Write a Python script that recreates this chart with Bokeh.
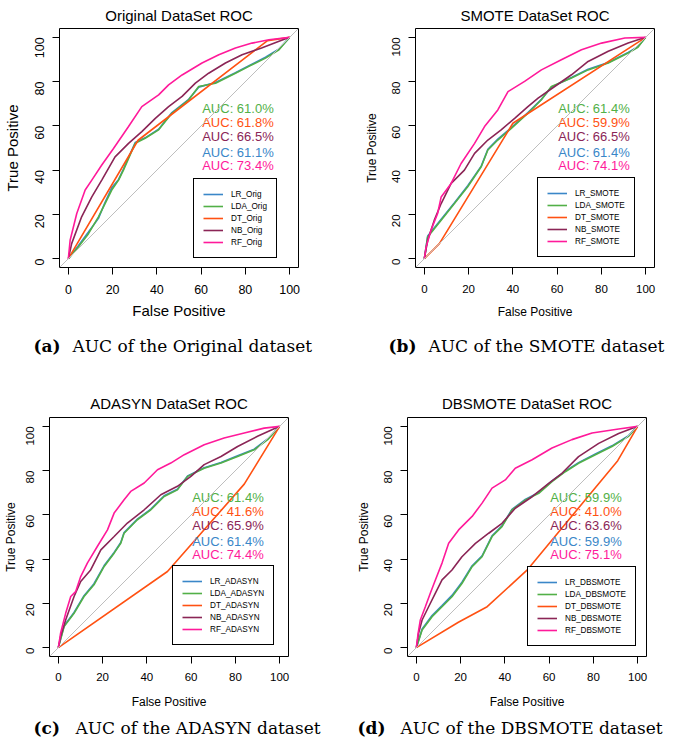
import math
from bokeh.plotting import figure
from bokeh.models import (FixedTicker, Legend, LegendItem, Slope, Title,
                          ColumnDataSource, Range1d)
from bokeh.layouts import column, row
from bokeh.embed import file_html
from bokeh.resources import INLINE
from bokeh.core.properties import value

# ---------------- data ----------------
MODELS = ["LR", "LDA", "DT", "NB", "RF"]
COLORS = ["#3A87C8", "#52B047", "#FF5112", "#8B2556", "#FF1A9A"]
TICKS = [0, 20, 40, 60, 80, 100]

# Original dataset
ORIG_LR_X = [0, 4.5, 9.1, 13.6, 16.6, 19.6, 22.7, 24.9, 30.2, 34.7, 40.8, 46.8, 54.4, 58.9, 66.5, 75.5, 81.6, 89.1, 95.2, 100]
ORIG_LR_Y = [0, 5.8, 12.0, 18.2, 25.5, 32.0, 35.8, 40.5, 52.5, 54.6, 58.5, 66.0, 72.0, 77.5, 79.6, 84.0, 87.2, 91.0, 94.8, 100]
ORIG_LDA_X = [0, 4.5, 9.1, 13.6, 16.6, 19.6, 22.7, 24.9, 30.2, 34.7, 40.8, 46.8, 54.4, 58.9, 66.5, 75.5, 81.6, 89.1, 95.2, 100]
ORIG_LDA_Y = [0, 5.3, 11.3, 18.9, 24.9, 31.0, 35.5, 40.0, 52.1, 54.4, 58.2, 65.7, 71.8, 77.8, 79.3, 83.8, 86.9, 90.6, 94.4, 100]
ORIG_DT_X = [0, 31.5, 90.0, 100]
ORIG_DT_Y = [0, 53.5, 98.5, 100]
ORIG_NB_X = [0, 1.5, 6.0, 10.6, 15.1, 21.1, 27.2, 33.2, 39.3, 45.3, 51.4, 57.4, 63.4, 71.0, 78.5, 87.3, 95.2, 100]
ORIG_NB_Y = [0, 6.8, 18.9, 27.9, 35.5, 46.0, 52.1, 57.4, 63.4, 68.7, 73.3, 79.3, 83.8, 88.4, 92.1, 95.2, 98.2, 100]
ORIG_RF_X = [0, 0.8, 3.8, 7.6, 10.6, 15.1, 20.4, 27.2, 33.2, 40.8, 45.3, 51.4, 60.4, 68.0, 75.5, 83.0, 90.6, 100]
ORIG_RF_Y = [0, 8.3, 20.4, 31.0, 35.5, 42.3, 49.8, 59.7, 68.7, 74.0, 78.5, 83.0, 88.4, 92.1, 95.2, 97.4, 98.9, 100]
ORIG_AUC = [61.1, 61.0, 61.8, 66.5, 73.4]

# SMOTE dataset
SMOTE_LR_X = [0, 1.5, 7.6, 13.6, 19.6, 25.7, 28.7, 33.2, 39.3, 46.8, 52.9, 57.4, 66.5, 74.0, 83.1, 92.1, 96.5, 100]
SMOTE_LR_Y = [0, 10.2, 17.8, 25.3, 33.0, 41.8, 49.4, 54.0, 59.2, 66.0, 72.0, 77.5, 81.9, 85.6, 88.6, 93.2, 95.8, 100]
SMOTE_LDA_X = [0, 1.5, 7.6, 13.6, 19.6, 25.7, 28.7, 33.2, 39.3, 46.8, 52.9, 57.4, 66.5, 74.0, 83.1, 92.1, 96.5, 100]
SMOTE_LDA_Y = [0, 9.8, 17.4, 24.9, 32.5, 41.5, 49.1, 53.6, 58.9, 65.7, 71.8, 77.8, 81.6, 85.3, 88.4, 92.9, 95.5, 100]
SMOTE_DT_X = [0, 6.8, 40.0, 100]
SMOTE_DT_Y = [0, 6.8, 61.2, 100]
SMOTE_NB_X = [0, 1.5, 4.5, 7.6, 12.1, 18.1, 22.7, 28.7, 34.7, 40.8, 46.8, 51.4, 58.9, 66.5, 74.0, 83.1, 92.1, 100]
SMOTE_NB_Y = [0, 8.3, 17.4, 24.9, 34.0, 40.0, 47.6, 53.6, 58.2, 63.4, 68.7, 72.5, 77.8, 83.1, 89.1, 93.7, 97.4, 100]
SMOTE_RF_X = [0, 0.8, 3.0, 6.0, 7.6, 12.1, 16.6, 22.7, 27.2, 33.2, 37.8, 45.3, 52.9, 61.9, 71.0, 80.1, 90.6, 100]
SMOTE_RF_Y = [0, 5.3, 12.8, 20.4, 27.9, 34.0, 43.0, 52.1, 59.7, 67.2, 75.5, 80.1, 85.3, 89.9, 94.4, 97.4, 99.7, 100]
SMOTE_AUC = [61.4, 61.4, 59.9, 66.5, 74.1]

# ADASYN dataset
ADASYN_LR_X = [0, 2.6, 7.1, 11.6, 16.1, 20.7, 25.2, 28.2, 29.7, 35.7, 41.8, 47.8, 53.8, 58.4, 65.9, 73.5, 81.0, 88.5, 94.6, 100]
ADASYN_LR_Y = [0, 9.9, 15.9, 23.5, 28.9, 37.1, 43.0, 47.5, 52.0, 58.1, 62.6, 68.6, 71.6, 77.6, 81.3, 83.7, 86.7, 89.7, 94.3, 100]
ADASYN_LDA_X = [0, 2.6, 7.1, 11.6, 16.1, 20.7, 25.2, 28.2, 29.7, 35.7, 41.8, 47.8, 53.8, 58.4, 65.9, 73.5, 81.0, 88.5, 94.6, 100]
ADASYN_LDA_Y = [0, 9.5, 15.5, 23.1, 28.4, 36.7, 42.7, 47.2, 51.7, 57.8, 62.3, 68.3, 71.3, 77.4, 81.1, 83.4, 86.4, 89.4, 94.0, 100]
ADASYN_DT_X = [0, 49.3, 84.0, 100]
ADASYN_DT_Y = [0, 34.4, 73.9, 100]
ADASYN_NB_X = [0, 1.0, 3.3, 7.1, 10.1, 14.6, 19.2, 25.2, 31.2, 38.8, 46.3, 53.8, 59.9, 65.9, 73.5, 81.0, 90.0, 100]
ADASYN_NB_Y = [0, 5.0, 12.5, 23.1, 29.9, 35.1, 44.2, 50.2, 56.3, 62.3, 69.1, 72.9, 77.4, 82.7, 86.4, 90.9, 95.5, 100]
ADASYN_RF_X = [0, 1.0, 3.3, 5.6, 7.8, 10.1, 13.1, 17.6, 22.2, 25.2, 29.7, 32.7, 38.8, 44.8, 50.8, 56.9, 65.9, 74.9, 84.0, 93.0, 100]
ADASYN_RF_Y = [0, 6.5, 15.5, 23.1, 25.3, 32.1, 38.2, 45.7, 53.2, 60.8, 66.8, 70.6, 74.4, 80.4, 83.4, 87.2, 91.7, 94.7, 97.0, 99.2, 100]
ADASYN_AUC = [61.4, 61.4, 41.6, 65.9, 74.4]

# DBSMOTE dataset
DBSMOTE_LR_X = [0, 2.6, 7.1, 11.6, 16.1, 20.6, 25.2, 29.7, 34.2, 38.7, 43.2, 49.2, 55.3, 61.3, 67.3, 73.3, 80.9, 88.4, 95.9, 100]
DBSMOTE_LR_Y = [0, 8.4, 14.5, 19.0, 23.6, 29.6, 37.0, 41.5, 50.5, 55.0, 62.5, 67.0, 70.1, 75.4, 79.8, 83.6, 87.5, 91.2, 95.8, 100]
DBSMOTE_LDA_X = [0, 2.6, 7.1, 11.6, 16.1, 20.6, 25.2, 29.7, 34.2, 38.7, 43.2, 49.2, 55.3, 61.3, 67.3, 73.3, 80.9, 88.4, 95.9, 100]
DBSMOTE_LDA_Y = [0, 8.0, 14.0, 18.5, 23.0, 29.0, 36.6, 41.1, 50.2, 54.7, 62.2, 66.7, 69.7, 75.0, 79.5, 83.3, 87.2, 90.9, 95.5, 100]
DBSMOTE_DT_X = [0, 19.0, 32.0, 50.0, 91.0, 100]
DBSMOTE_DT_Y = [0, 11.5, 18.5, 35.0, 84.5, 100]
DBSMOTE_NB_X = [0, 1.0, 2.6, 5.6, 8.6, 11.6, 16.1, 20.6, 26.7, 32.7, 38.7, 44.7, 52.3, 59.8, 65.8, 73.3, 82.4, 91.4, 100]
DBSMOTE_NB_Y = [0, 6.5, 12.5, 18.6, 24.6, 30.6, 35.1, 41.1, 47.1, 51.7, 56.2, 63.0, 68.2, 74.2, 78.8, 86.3, 92.3, 96.8, 100]
DBSMOTE_RF_X = [0, 0.8, 1.8, 4.1, 6.3, 8.6, 11.6, 14.6, 19.1, 25.2, 29.7, 34.2, 40.2, 44.7, 52.3, 61.3, 70.3, 79.4, 91.4, 100]
DBSMOTE_RF_Y = [0, 6.5, 12.5, 18.6, 24.6, 30.6, 38.2, 47.2, 53.2, 59.3, 65.3, 72.1, 75.8, 81.1, 84.9, 90.2, 94.0, 97.0, 98.8, 100]
DBSMOTE_AUC = [59.9, 59.9, 41.0, 63.6, 75.1]

TITLES = ["Original DataSet ROC", "SMOTE DataSet ROC", "ADASYN DataSet ROC", "DBSMOTE DataSet ROC"]
SUFFIXES = ["Orig", "SMOTE", "ADASYN", "DBSMOTE"]
CAPTION_TAGS = ["(a)", "(b)", "(c)", "(d)"]
CAPTIONS = ["AUC of the Original dataset", "AUC of the SMOTE dataset",
            "AUC of the ADASYN dataset", "AUC of the DBSMOTE dataset"]

CURVES = [
    [(ORIG_LR_X, ORIG_LR_Y), (ORIG_LDA_X, ORIG_LDA_Y), (ORIG_DT_X, ORIG_DT_Y), (ORIG_NB_X, ORIG_NB_Y), (ORIG_RF_X, ORIG_RF_Y)],
    [(SMOTE_LR_X, SMOTE_LR_Y), (SMOTE_LDA_X, SMOTE_LDA_Y), (SMOTE_DT_X, SMOTE_DT_Y), (SMOTE_NB_X, SMOTE_NB_Y), (SMOTE_RF_X, SMOTE_RF_Y)],
    [(ADASYN_LR_X, ADASYN_LR_Y), (ADASYN_LDA_X, ADASYN_LDA_Y), (ADASYN_DT_X, ADASYN_DT_Y), (ADASYN_NB_X, ADASYN_NB_Y), (ADASYN_RF_X, ADASYN_RF_Y)],
    [(DBSMOTE_LR_X, DBSMOTE_LR_Y), (DBSMOTE_LDA_X, DBSMOTE_LDA_Y), (DBSMOTE_DT_X, DBSMOTE_DT_Y), (DBSMOTE_NB_X, DBSMOTE_NB_Y), (DBSMOTE_RF_X, DBSMOTE_RF_Y)],
]
AUCS = [ORIG_AUC, SMOTE_AUC, ADASYN_AUC, DBSMOTE_AUC]

# ---------------- layout / style (not data) ----------------
AUC_LABEL_Y = [47.8, 68.0, 61.7, 55.1, 41.9]   # per model, LR..RF
AUC_LABEL_X = 92.8
SANS = "Liberation Sans"
SERIF = "DejaVu Serif"
FRAME = 239

GEOM = [
    dict(bl=58, br=43, bt=28, bb=56, tf="12.5px", af="15px", xls=10, yls=13, xs=5, ys=7, leg=(134, 9), ts=9),
    dict(bl=74, br=15, bt=28, bb=56, tf="11.5px", af="12px", xls=10, yls=12, xs=9, ys=7, leg=(122, 10), ts=9),
    dict(bl=45, br=56, bt=32, bb=54, tf="11.5px", af="12px", xls=9, yls=12, xs=11, ys=2, leg=(123, 11), ts=11),
    dict(bl=63, br=25, bt=32, bb=54, tf="11.5px", af="12px", xls=9, yls=12, xs=11, ys=7, leg=(120, 10), ts=11),
]
CAP_ROW_W = 668
CAP_X = [(33, 72), (388, 428), (33, 75), (357, 400)]
CAP_ROWS = [dict(h=62, y=40), dict(h=34, y=18)]


def make_panel(i):
    g = GEOM[i]
    p = figure(frame_width=FRAME, frame_height=FRAME,
               x_range=Range1d(-4, 104), y_range=Range1d(-4, 104),
               output_backend="svg", toolbar_location=None,
               min_border_left=g["bl"], min_border_right=g["br"],
               min_border_top=g["bt"], min_border_bottom=g["bb"],
               background_fill_color="white", border_fill_color="white")
    p.grid.visible = False
    p.outline_line_color = "black"
    p.outline_line_width = 1
    p.outline_line_alpha = 1

    for ax in (p.xaxis[0], p.yaxis[0]):
        ax.ticker = FixedTicker(ticks=TICKS)
        ax.axis_line_color = None
        ax.major_tick_out = 7
        ax.major_tick_in = 0
        ax.major_tick_line_color = "black"
        ax.minor_tick_line_color = None
        ax.major_label_text_font = SANS
        ax.major_label_text_font_size = g["tf"]
        ax.major_label_text_color = "black"
        ax.axis_label_text_font = SANS
        ax.axis_label_text_font_size = g["af"]
        ax.axis_label_text_font_style = "normal"
        ax.axis_label_text_color = "black"
    p.xaxis.axis_label = "False Positive"
    p.yaxis.axis_label = "True Positive"
    p.xaxis.major_label_standoff = g["xls"]
    p.yaxis.major_label_standoff = g["yls"]
    p.xaxis.axis_label_standoff = g["xs"]
    p.yaxis.axis_label_standoff = g["ys"]
    p.yaxis.major_label_orientation = math.pi / 2

    p.add_layout(Title(text=TITLES[i], align="center", standoff=g["ts"],
                       text_font=SANS, text_font_size="15px",
                       text_font_style="normal", text_color="black"), "above")

    p.add_layout(Slope(gradient=1, y_intercept=0, line_color="#BEBEBE", line_width=1))

    items = []
    for k, (xs, ys) in enumerate(CURVES[i]):
        r = p.line(xs, ys, line_color=COLORS[k], line_width=1.6)
        items.append(LegendItem(label=MODELS[k] + "_" + SUFFIXES[i], renderers=[r]))

    src = ColumnDataSource(dict(
        x=[AUC_LABEL_X] * len(MODELS), y=AUC_LABEL_Y,
        t=["AUC: %.1f%%" % a for a in AUCS[i]], c=COLORS))
    p.text(x="x", y="y", text="t", text_color="c", source=src,
           text_align="right", text_baseline="middle",
           text_font=value(SANS), text_font_size="13px")

    legend = Legend(items=items, location=g["leg"], margin=0,
                    border_line_color="black", border_line_width=1, border_line_alpha=1,
                    background_fill_color="white", background_fill_alpha=1,
                    label_text_font=SANS, label_text_font_size="8.2px",
                    label_text_color="black",
                    glyph_width=20, glyph_height=12, label_height=12,
                    label_standoff=8, padding=9, spacing=0)
    p.add_layout(legend)
    return p


def make_caption_row(r, idx):
    c = CAP_ROWS[r]
    p = figure(width=CAP_ROW_W, height=c["h"],
               x_range=Range1d(0, CAP_ROW_W), y_range=Range1d(0, c["h"]),
               x_axis_type=None, y_axis_type=None,
               output_backend="svg", toolbar_location=None, min_border=0,
               outline_line_color=None, background_fill_color="white",
               border_fill_color="white")
    p.grid.visible = False
    tags = ColumnDataSource(dict(x=[CAP_X[i][0] for i in idx], y=[c["y"]] * len(idx),
                                 t=[CAPTION_TAGS[i] for i in idx]))
    texts = ColumnDataSource(dict(x=[CAP_X[i][1] for i in idx], y=[c["y"]] * len(idx),
                                  t=[CAPTIONS[i] for i in idx]))
    p.text(x="x", y="y", text="t", source=tags, text_align="left", text_baseline="middle",
           text_font=value(SERIF), text_font_style="bold", text_font_size="17px",
           text_color="black")
    p.text(x="x", y="y", text="t", source=texts, text_align="left", text_baseline="middle",
           text_font=value(SERIF), text_font_size="17px", text_color="black")
    return p


panels = [make_panel(i) for i in range(4)]
layout = column(row(panels[0], panels[1]), make_caption_row(0, [0, 1]),
                row(panels[2], panels[3]), make_caption_row(1, [2, 3]))

with open("out.html", "w") as f:
    f.write(file_html(layout, INLINE))
